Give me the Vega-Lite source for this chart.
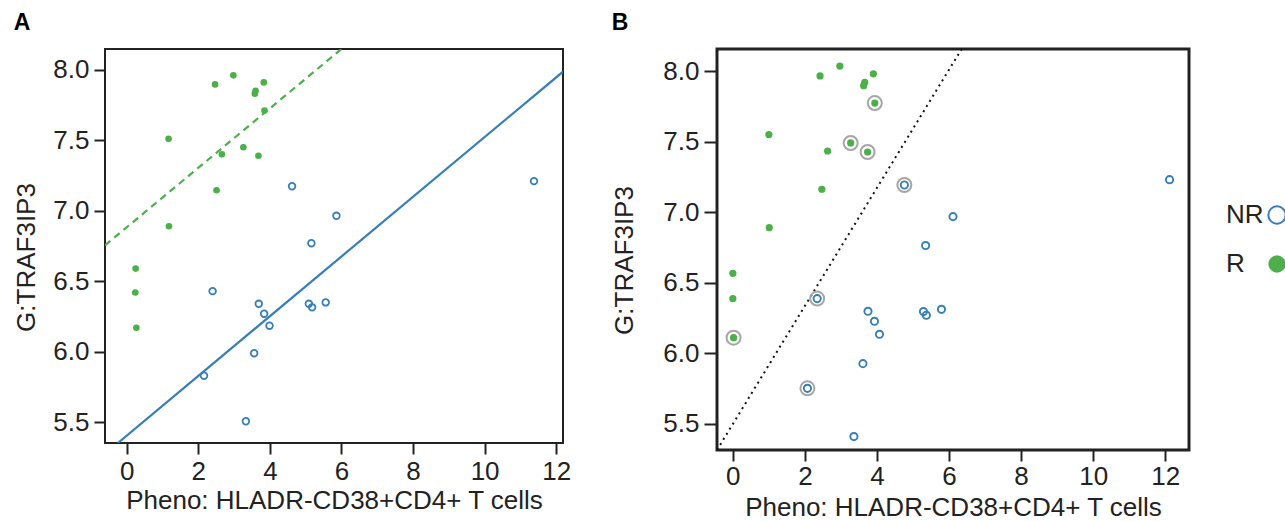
{
  "$schema": "https://vega.github.io/schema/vega-lite/v6.json",
  "padding": {"left": 12, "top": 10, "right": 0, "bottom": 0},
  "background": "white",
  "config": {
    "font": "Liberation Sans",
    "axis": {"labelFontSize": 26, "titleFontSize": 26, "labelColor": "#222", "titleColor": "#222", "tickColor": "#222", "tickWidth": 2, "tickSize": 11, "grid": false, "domain": false, "labelPadding": 5, "titleFontWeight": "normal"},
    "title": {"fontSize": 23, "fontWeight": "bold", "anchor": "start", "frame": "bounds", "color": "#000", "offset": 14}
  },
  "datasets": {
    "a_points": [
      {"x": 2.47, "y": 7.896, "group": "R"}, {"x": 2.98, "y": 7.96, "group": "R"}, {"x": 3.83, "y": 7.91, "group": "R"},
      {"x": 3.60, "y": 7.85, "group": "R"}, {"x": 3.58, "y": 7.83, "group": "R"}, {"x": 3.85, "y": 7.71, "group": "R"},
      {"x": 1.17, "y": 7.51, "group": "R"}, {"x": 3.26, "y": 7.45, "group": "R"}, {"x": 2.66, "y": 7.40, "group": "R"},
      {"x": 3.68, "y": 7.39, "group": "R"}, {"x": 2.51, "y": 7.145, "group": "R"}, {"x": 1.18, "y": 6.89, "group": "R"},
      {"x": 0.25, "y": 6.59, "group": "R"}, {"x": 0.24, "y": 6.42, "group": "R"}, {"x": 0.27, "y": 6.17, "group": "R"},
      {"x": 4.62, "y": 7.174, "group": "NR"}, {"x": 5.86, "y": 6.964, "group": "NR"}, {"x": 5.16, "y": 6.77, "group": "NR"},
      {"x": 2.40, "y": 6.43, "group": "NR"}, {"x": 3.69, "y": 6.34, "group": "NR"}, {"x": 3.84, "y": 6.27, "group": "NR"},
      {"x": 3.99, "y": 6.185, "group": "NR"}, {"x": 5.09, "y": 6.34, "group": "NR"}, {"x": 5.18, "y": 6.315, "group": "NR"},
      {"x": 5.56, "y": 6.35, "group": "NR"}, {"x": 3.56, "y": 5.99, "group": "NR"}, {"x": 2.16, "y": 5.83, "group": "NR"},
      {"x": 3.33, "y": 5.507, "group": "NR"}, {"x": 11.38, "y": 7.21, "group": "NR"}
    ],
    "a_lines": [
      {"x": -0.606, "y": 6.755, "group": "R"}, {"x": 6.0, "y": 8.147, "group": "R"},
      {"x": -0.246, "y": 5.353, "group": "NR"}, {"x": 12.19, "y": 7.986, "group": "NR"}
    ],
    "b_points": [
      {"x": 2.42, "y": 7.965, "group": "R", "circled": false}, {"x": 2.97, "y": 8.035, "group": "R", "circled": false},
      {"x": 3.90, "y": 7.98, "group": "R", "circled": false}, {"x": 3.66, "y": 7.92, "group": "R", "circled": false},
      {"x": 3.63, "y": 7.896, "group": "R", "circled": false}, {"x": 3.94, "y": 7.773, "group": "R", "circled": true},
      {"x": 1.00, "y": 7.55, "group": "R", "circled": false}, {"x": 3.27, "y": 7.49, "group": "R", "circled": true},
      {"x": 2.63, "y": 7.433, "group": "R", "circled": false}, {"x": 3.74, "y": 7.426, "group": "R", "circled": true},
      {"x": 2.47, "y": 7.162, "group": "R", "circled": false}, {"x": 1.01, "y": 6.89, "group": "R", "circled": false},
      {"x": 0.0, "y": 6.566, "group": "R", "circled": false}, {"x": 0.0, "y": 6.387, "group": "R", "circled": false},
      {"x": 0.02, "y": 6.11, "group": "R", "circled": true},
      {"x": 4.76, "y": 7.192, "group": "NR", "circled": true}, {"x": 6.11, "y": 6.968, "group": "NR", "circled": false},
      {"x": 5.35, "y": 6.763, "group": "NR", "circled": false}, {"x": 2.34, "y": 6.387, "group": "NR", "circled": true},
      {"x": 3.75, "y": 6.297, "group": "NR", "circled": false}, {"x": 3.93, "y": 6.226, "group": "NR", "circled": false},
      {"x": 4.07, "y": 6.134, "group": "NR", "circled": false}, {"x": 5.29, "y": 6.295, "group": "NR", "circled": false},
      {"x": 5.37, "y": 6.269, "group": "NR", "circled": false}, {"x": 5.79, "y": 6.311, "group": "NR", "circled": false},
      {"x": 3.61, "y": 5.926, "group": "NR", "circled": false}, {"x": 2.07, "y": 5.751, "group": "NR", "circled": true},
      {"x": 3.36, "y": 5.409, "group": "NR", "circled": false}, {"x": 12.12, "y": 7.23, "group": "NR", "circled": false}
    ],
    "b_line": [
      {"x": -0.44, "y": 5.314}, {"x": 6.35, "y": 8.156}
    ]
  },
  "resolve": {"scale": {"fill": "independent", "stroke": "independent"}},
  "spacing": 38,
  "hconcat": [
    {
      "width": 458,
      "height": 394,
      "title": {"text": "A"},
      "view": {"stroke": "#222", "strokeWidth": 2},
      "layer": [
        {
          "data": {"name": "a_points"},
          "mark": {"type": "point", "shape": "circle", "size": 44, "strokeWidth": 1.8, "opacity": 1},
          "encoding": {
            "x": {"field": "x", "type": "quantitative", "scale": {"domain": [-0.606, 12.19], "nice": false, "zero": false},
                  "axis": {"title": "Pheno: HLADR-CD38+CD4+ T cells", "values": [0, 2, 4, 6, 8, 10, 12], "labelPadding": 4, "titlePadding": 3}},
            "y": {"field": "y", "type": "quantitative", "scale": {"domain": [5.353, 8.147], "nice": false, "zero": false},
                  "axis": {"title": "G:TRAF3IP3", "values": [5.5, 6.0, 6.5, 7.0, 7.5, 8.0], "format": ".1f", "titlePadding": 13, "titleY": 208}},
            "fill": {"field": "group", "type": "nominal", "scale": {"domain": ["NR", "R"], "range": ["transparent", "#4daf4a"]}, "legend": null},
            "stroke": {"field": "group", "type": "nominal", "scale": {"domain": ["NR", "R"], "range": ["#377eb8", "transparent"]}, "legend": null}
          }
        },
        {
          "data": {"name": "a_lines"},
          "transform": [{"filter": "datum.group === 'R'"}],
          "mark": {"type": "line", "clip": true, "color": "#4daf4a", "strokeWidth": 2.2, "strokeDash": [7, 5]},
          "encoding": {"x": {"field": "x", "type": "quantitative"}, "y": {"field": "y", "type": "quantitative"}}
        },
        {
          "data": {"name": "a_lines"},
          "transform": [{"filter": "datum.group === 'NR'"}],
          "mark": {"type": "line", "clip": true, "color": "#377eb8", "strokeWidth": 2.2},
          "encoding": {"x": {"field": "x", "type": "quantitative"}, "y": {"field": "y", "type": "quantitative"}}
        }
      ]
    },
    {
      "width": 472,
      "height": 401,
      "title": {"text": "B"},
      "view": {"stroke": "#222", "strokeWidth": 3},
      "layer": [
        {
          "data": {"name": "b_line"},
          "mark": {"type": "line", "clip": true, "color": "#111", "strokeWidth": 2, "strokeDash": [2, 4]},
          "encoding": {
            "x": {"field": "x", "type": "quantitative", "scale": {"domain": [-0.44, 12.66], "nice": false, "zero": false},
                  "axis": {"title": "Pheno: HLADR-CD38+CD4+ T cells", "values": [0, 2, 4, 6, 8, 10, 12], "labelPadding": 2, "titlePadding": 5, "tickSize": 11}},
            "y": {"field": "y", "type": "quantitative", "scale": {"domain": [5.314, 8.156], "nice": false, "zero": false},
                  "axis": {"title": "G:TRAF3IP3", "values": [5.5, 6.0, 6.5, 7.0, 7.5, 8.0], "format": ".1f", "titlePadding": 25, "tickSize": 13, "titleY": 211}}
          }
        },
        {
          "data": {"name": "b_points"},
          "transform": [{"filter": "datum.circled"}],
          "mark": {"type": "point", "shape": "circle", "size": 196, "strokeWidth": 2, "color": "#a6a6a6", "filled": false, "opacity": 1},
          "encoding": {"x": {"field": "x", "type": "quantitative"}, "y": {"field": "y", "type": "quantitative"}}
        },
        {
          "data": {"name": "b_points"},
          "mark": {"type": "point", "shape": "circle", "size": 52, "strokeWidth": 1.9, "opacity": 1},
          "encoding": {
            "x": {"field": "x", "type": "quantitative"},
            "y": {"field": "y", "type": "quantitative"},
            "fill": {"field": "group", "type": "nominal", "scale": {"domain": ["NR", "R"], "range": ["transparent", "#4daf4a"]},
                     "legend": {"title": null, "orient": "none", "legendX": 547, "legendY": 153, "padding": 0, "labelAlign": "left", "labelOffset": -64, "labelFontSize": 26, "labelColor": "#222", "symbolSize": 300, "symbolStrokeWidth": 2, "rowPadding": 23}},
            "stroke": {"field": "group", "type": "nominal", "scale": {"domain": ["NR", "R"], "range": ["#377eb8", "transparent"]},
                     "legend": {"title": null, "orient": "none", "legendX": 547, "legendY": 153, "padding": 0, "labelAlign": "left", "labelOffset": -64, "labelFontSize": 26, "labelColor": "#222", "symbolSize": 300, "symbolStrokeWidth": 2, "rowPadding": 23}}
          }
        }
      ]
    }
  ]
}
